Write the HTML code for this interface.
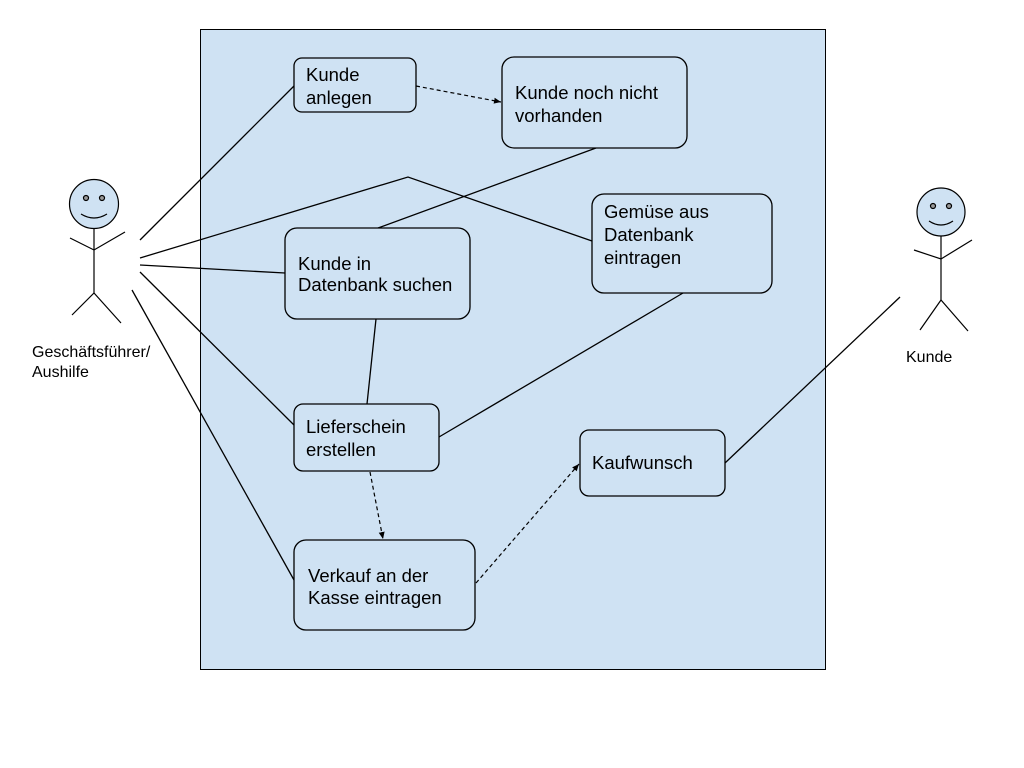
<!DOCTYPE html>
<html><head><meta charset="utf-8"><style>
html,body{margin:0;padding:0;background:#fff;}
svg{display:block;}
text{font-family:"Liberation Sans",sans-serif;font-size:18.5px;fill:#000;}
</style></head><body>
<svg width="1024" height="768" viewBox="0 0 1024 768" xmlns="http://www.w3.org/2000/svg">
<defs>
<marker id="a" markerWidth="8" markerHeight="8" refX="7" refY="4" orient="auto" markerUnits="userSpaceOnUse">
<path d="M0,1 L7,4 L0,7 z" fill="#000"/></marker>
</defs>
<rect x="200.5" y="29.5" width="625" height="640" fill="#cfe2f3" stroke="#000" stroke-width="1"/>
<g stroke="#000" stroke-width="1.3" fill="none">
<line x1="140" y1="240" x2="294" y2="86"/>
<polyline points="140,258 408,177 592,241"/>
<line x1="140" y1="265" x2="285" y2="273"/>
<line x1="140" y1="272" x2="294" y2="425"/>
<line x1="132" y1="290" x2="294" y2="580"/>
<line x1="378" y1="228" x2="596" y2="148"/>
<line x1="376" y1="319" x2="367" y2="404"/>
<line x1="439" y1="437" x2="683" y2="293"/>
<line x1="725" y1="463" x2="900" y2="297"/>
</g>
<g stroke="#000" stroke-width="1.2" fill="none" stroke-dasharray="4,3">
<line x1="416" y1="86" x2="501" y2="102" marker-end="url(#a)"/>
<line x1="370" y1="472" x2="383" y2="539" marker-end="url(#a)"/>
<line x1="476" y1="583" x2="579" y2="464" marker-end="url(#a)"/>
</g>
<g fill="#cfe2f3" stroke="#000" stroke-width="1.3">
<rect x="294" y="58" width="122" height="54" rx="8"/>
<rect x="502" y="57" width="185" height="91" rx="12"/>
<rect x="592" y="194" width="180" height="99" rx="12"/>
<rect x="285" y="228" width="185" height="91" rx="12"/>
<rect x="294" y="404" width="145" height="67" rx="9"/>
<rect x="580" y="430" width="145" height="66" rx="9"/>
<rect x="294" y="540" width="181" height="90" rx="12"/>
</g>
<text x="306" y="81">Kunde</text><text x="306" y="104">anlegen</text>
<text x="515" y="99">Kunde noch nicht</text><text x="515" y="122">vorhanden</text>
<text x="604" y="218">Gemüse aus</text><text x="604" y="241">Datenbank</text><text x="604" y="264">eintragen</text>
<text x="298" y="270">Kunde in</text><text x="298" y="291">Datenbank suchen</text>
<text x="306" y="433">Lieferschein</text><text x="306" y="456">erstellen</text>
<text x="592" y="469">Kaufwunsch</text>
<text x="308" y="582">Verkauf an der</text><text x="308" y="604">Kasse eintragen</text>
<g stroke="#000" stroke-width="1.2" fill="none">
<circle cx="94" cy="204" r="24.5" fill="#cfe2f3"/>
<circle cx="86" cy="198" r="2.5" fill="#999"/><circle cx="102" cy="198" r="2.5" fill="#999"/>
<path d="M81,214 Q94,222 107,214"/>
<line x1="94" y1="228" x2="94" y2="293"/>
<polyline points="70,238 94,250 125,232"/>
<polyline points="72,315 94,293 121,323"/>
</g>
<text x="32" y="357" style="font-size:16px">Geschäftsführer/</text>
<text x="32" y="377" style="font-size:16px">Aushilfe</text>
<g stroke="#000" stroke-width="1.2" fill="none">
<circle cx="941" cy="212" r="24" fill="#cfe2f3"/>
<circle cx="933" cy="206" r="2.5" fill="#999"/><circle cx="949" cy="206" r="2.5" fill="#999"/>
<path d="M929,221 Q941,229 953,221"/>
<line x1="941" y1="236" x2="941" y2="300"/>
<polyline points="914,250 941,259 972,240"/>
<polyline points="920,330 941,300 968,331"/>
</g>
<text x="906" y="362" style="font-size:16px">Kunde</text>
</svg>
</body></html>
